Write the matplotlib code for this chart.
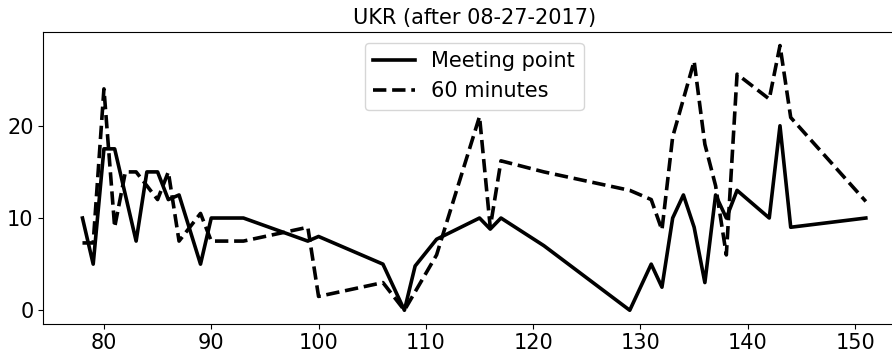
import numpy as np
from matplotlib import pyplot as plt

# days since start
meet_x = [78, 79, 80, 81, 83, 84, 85, 86, 87, 89, 90, 93, 99, 100, 106, 108, 109,
          111, 115, 116, 117, 121, 129, 131, 132, 133, 134, 135, 136, 137, 138,
          139, 142, 143, 144, 151]
meet_y = [10, 5, 17.5, 17.5, 7.5, 15, 15, 12, 12.5, 5, 10, 10, 7.5, 8, 5, 0, 4.8,
          7.7, 10, 8.8, 10, 7, 0, 5, 2.5, 10, 12.5, 9, 3, 12.5, 10,
          13, 10, 20, 9, 10]

min60_x = [78, 79, 80, 81, 82, 83, 85, 86, 87, 89, 90, 93, 99, 100, 106, 108, 111,
           115, 116, 117, 121, 129, 131, 132, 133, 135, 136, 137, 138, 139, 142,
           143, 144, 151]
min60_y = [7.3, 7.3, 24, 9, 15, 15, 12, 15, 7.5, 10.5, 7.5, 7.5, 9, 1.5, 3, 0, 6,
           21, 9, 16.2, 15, 13, 12, 8.7, 18.8, 27, 18, 13.5, 6, 25.6, 22.9,
           28.7, 20.9, 11.8]

W, H = 892, 351
fig = plt.figure(figsize=(W/100.0, H/100.0), dpi=100)
# axes run past the right edge, the original was cropped there
ax = fig.add_axes([43.3/W, 1 - 323.5/H, (905 - 43.3)/W, (323.5 - 32.3)/H])

ax.plot(meet_x, meet_y, '-k', lw=2.6, label='Meeting point')
ax.plot(min60_x, min60_y, '--k', lw=2.6, label='60 minutes')

ax.set_xticks([80, 90, 100, 110, 120, 130, 140, 150])
ax.set_yticks([0, 10, 20])
ax.tick_params(labelsize=15)
ax.set_title('UKR (after 08-27-2017)', fontsize=15)
ax.legend(loc='upper center', fontsize=15)

fig.savefig('out.png', dpi=100)
